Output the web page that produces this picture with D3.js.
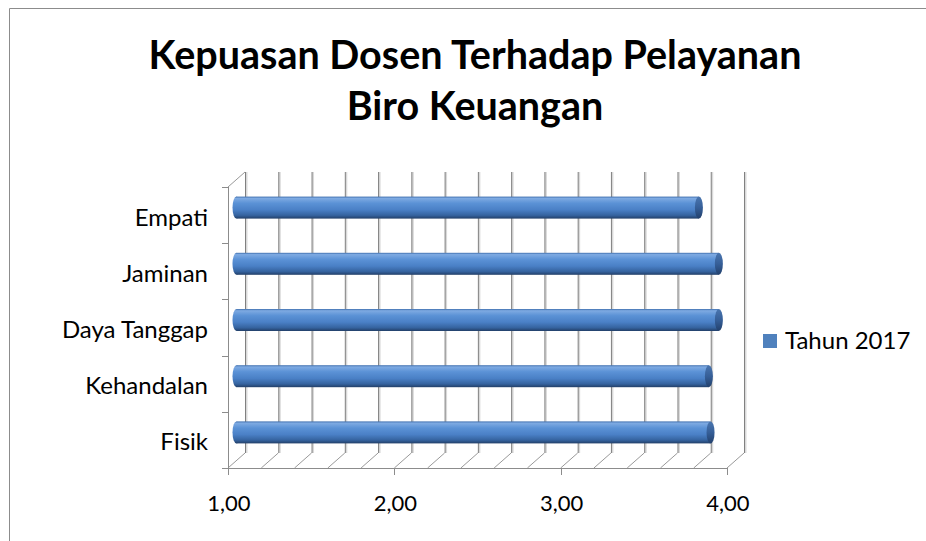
<!DOCTYPE html>
<html><head><meta charset="utf-8">
<script src="https://cdn.jsdelivr.net/npm/d3@7"></script>
<style>html,body{margin:0;padding:0;background:#fff;}svg{display:block;}</style>
</head><body>
<svg id="chart" width="926" height="541"></svg>
<script>
const titleLines = ["Kepuasan Dosen Terhadap Pelayanan", "Biro Keuangan"];
const categories = ["Fisik", "Kehandalan", "Daya Tanggap", "Jaminan", "Empati"];
const values = [3.85, 3.84, 3.90, 3.90, 3.78];
const seriesName = "Tahun 2017";
const xTickValues = [1, 2, 3, 4];
const xTickLabels = ["1,00", "2,00", "3,00", "4,00"];

const W = 926, H = 541;
const svg = d3.select("#chart");
const FONT = "Lato, 'Open Sans', sans-serif";

// border
svg.append("path").attr("d", `M9.5,${H} L9.5,8.5 L${W},8.5`)
  .attr("fill", "none").attr("stroke", "#8c8c8c").attr("stroke-width", 1);

// title
const title = svg.append("g");
const titleBase = [69, 120];
titleLines.forEach((t, i) => {
  title.append("text").text(t)
    .attr("x", 475).attr("y", titleBase[i])
    .attr("text-anchor", "middle")
    .attr("font-family", FONT).attr("font-weight", "bold")
    .attr("font-size", 38).attr("fill", "#000");
});
{
  const first = title.select("text").node();
  const w = first.getComputedTextLength();
  const fs = 38 * 653 / w;
  title.selectAll("text").attr("font-size", Math.min(fs, 42));
}

// geometry
const DX = 17, DY = 15;
const floorY = 468, topY = 187;
const x = d3.scaleLinear().domain([1, 4]).range([228, 727]);
const y = d3.scaleBand().domain(categories).range([floorY, topY]).padding(0);
const bw = y.bandwidth();

const grid = svg.append("g");
const minorTicks = x.ticks(15);
minorTicks.forEach(v => {
  grid.append("line").attr("x1", x(v) + DX + 1.5).attr("x2", x(v) + DX + 1.5)
    .attr("y1", topY - DY).attr("y2", floorY - DY)
    .attr("stroke", "#d9d9d9").attr("stroke-width", 2);
  grid.append("line").attr("x1", x(v) + DX + 0.5).attr("x2", x(v) + DX + 0.5)
    .attr("y1", topY - DY).attr("y2", floorY - DY)
    .attr("stroke", "#808080").attr("stroke-width", 1);
  grid.append("line").attr("x1", x(v)).attr("y1", floorY)
    .attr("x2", x(v) + DX).attr("y2", floorY - DY)
    .attr("stroke", "#999").attr("stroke-width", 1);
});
// left wall
grid.append("line").attr("x1", x(1) + 0.5).attr("x2", x(1) + 0.5)
  .attr("y1", topY).attr("y2", floorY).attr("stroke", "#8c8c8c");
grid.append("line").attr("x1", x(1)).attr("y1", topY)
  .attr("x2", x(1) + DX).attr("y2", topY - DY).attr("stroke", "#999");
// category ticks
const bounds = categories.map(c => y(c)).concat([y(categories[0]) + bw]);
bounds.forEach(b => {
  grid.append("line").attr("x1", x(1) - 6).attr("x2", x(1))
    .attr("y1", Math.round(b) + 0.5).attr("y2", Math.round(b) + 0.5)
    .attr("stroke", "#8c8c8c");
});
// front value axis
grid.append("line").attr("x1", x(1)).attr("x2", x(4))
  .attr("y1", floorY + 0.5).attr("y2", floorY + 0.5).attr("stroke", "#8c8c8c");
xTickValues.forEach(v => {
  grid.append("line").attr("x1", Math.round(x(v)) + 0.5).attr("x2", Math.round(x(v)) + 0.5)
    .attr("y1", floorY).attr("y2", floorY + 7).attr("stroke", "#8c8c8c");
});

// gradients
const defs = svg.append("defs");
const g1 = defs.append("linearGradient").attr("id", "cyl")
  .attr("x1", 0).attr("y1", 0).attr("x2", 0).attr("y2", 1);
[[0, "#3f6fae"], [0.08, "#7eaae2"], [0.3, "#5b92d6"], [0.6, "#4a80c6"], [0.85, "#35639f"], [1, "#223f68"]]
  .forEach(([o, c]) => g1.append("stop").attr("offset", o).attr("stop-color", c));
const g2 = defs.append("linearGradient").attr("id", "cap")
  .attr("x1", 0).attr("y1", 0).attr("x2", 0).attr("y2", 1);
[[0, "#4a76b0"], [0.5, "#365f98"], [1, "#22406c"]]
  .forEach(([o, c]) => g2.append("stop").attr("offset", o).attr("stop-color", c));

// bars (cylinders)
const BH = 22, RX = 4;
const bars = svg.append("g").selectAll("g").data(categories).join("g");
bars.each(function(c, i) {
  const g = d3.select(this);
  const cy = y(c) + bw / 2 - DY / 2;
  const x0 = x(1) + DX / 2, x1 = x(values[i]) + DX / 2;
  g.append("ellipse").attr("cx", x0).attr("cy", cy).attr("rx", RX).attr("ry", BH / 2)
    .attr("fill", "url(#cyl)");
  g.append("rect").attr("x", x0).attr("y", cy - BH / 2).attr("width", x1 - x0).attr("height", BH)
    .attr("fill", "url(#cyl)");
  g.append("ellipse").attr("cx", x1).attr("cy", cy).attr("rx", RX).attr("ry", BH / 2)
    .attr("fill", "url(#cap)");
});

// category labels
svg.append("g").selectAll("text").data(categories).join("text")
  .attr("x", 208).attr("y", c => y(c) + bw / 2 + 1)
  .attr("text-anchor", "end").attr("dominant-baseline", "central")
  .attr("font-family", FONT).attr("font-size", 24).attr("fill", "#000")
  .text(c => c);

// x tick labels
svg.append("g").selectAll("text").data(xTickValues).join("text")
  .attr("x", v => x(v) + 1).attr("y", 511)
  .attr("text-anchor", "middle")
  .attr("font-family", FONT).attr("font-size", 22).attr("fill", "#000")
  .text((v, i) => xTickLabels[i]);

// legend
const lg = svg.append("g");
lg.append("rect").attr("x", 763).attr("y", 334).attr("width", 14).attr("height", 14)
  .attr("fill", "#4f81bd");
lg.append("text").attr("x", 785).attr("y", 349)
  .attr("font-family", FONT).attr("font-size", 24).attr("fill", "#000")
  .text(seriesName);
</script>
</body></html>
